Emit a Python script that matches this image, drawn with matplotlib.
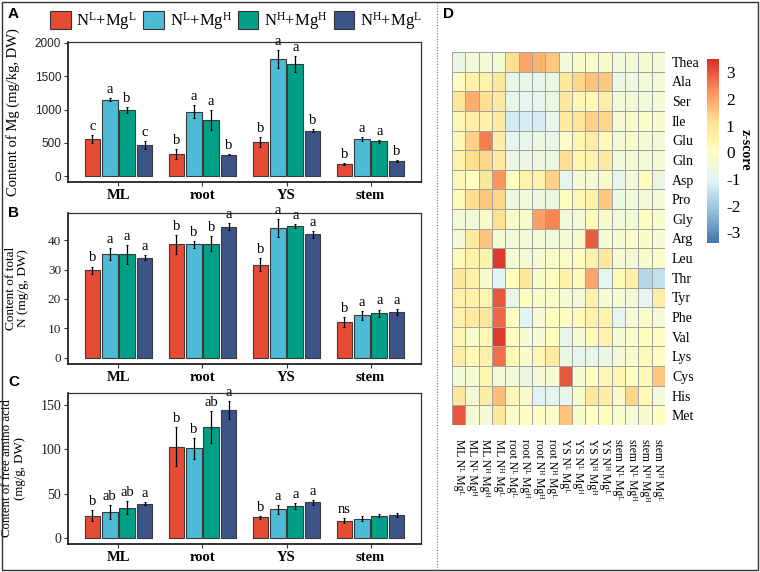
import numpy as np
import matplotlib
matplotlib.use('Agg')
import matplotlib.pyplot as plt
from matplotlib.patches import Patch, Rectangle
from matplotlib.lines import Line2D
from matplotlib.colors import LinearSegmentedColormap

plt.rcParams['font.family'] = ['Liberation Serif', 'DejaVu Serif']
plt.rcParams['mathtext.fontset'] = 'custom'
plt.rcParams['mathtext.rm'] = 'Liberation Serif'
plt.rcParams['mathtext.it'] = 'Liberation Serif:italic'
plt.rcParams['mathtext.bf'] = 'Liberation Serif:bold'
plt.rcParams['axes.unicode_minus'] = False

# ---------------- data ----------------
tissues = ['ML', 'root', 'YS', 'stem']
treatments = ['N$^{\\mathrm{L}}$+Mg$^{\\mathrm{L}}$', 'N$^{\\mathrm{L}}$+Mg$^{\\mathrm{H}}$',
              'N$^{\\mathrm{H}}$+Mg$^{\\mathrm{H}}$', 'N$^{\\mathrm{H}}$+Mg$^{\\mathrm{L}}$']
colors = ['#E64B35', '#4DBBD5', '#00A087', '#3C5488']

# rows: tissue; columns: treatment
mg_mean = [[560, 1150, 990, 470], [330, 970, 840, 320], [510, 1760, 1690, 680], [180, 550, 520, 220]]
mg_err = [[60, 25, 50, 60], [70, 100, 150, 10], [80, 130, 120, 25], [20, 30, 20, 15]]
mg_letters = [['c', 'a', 'b', 'c'], ['b', 'a', 'a', 'b'], ['b', 'a', 'a', 'b'], ['b', 'a', 'a', 'b']]

n_mean = [[29.8, 35.2, 35.2, 34.0], [38.5, 38.5, 38.8, 44.5], [31.7, 44.0, 44.8, 42.0], [12.2, 14.5, 15.2, 15.5]]
n_err = [[1.2, 2.0, 3.2, 0.8], [3.2, 1.2, 2.5, 1.2], [2.3, 3.0, 0.7, 1.2], [1.8, 1.5, 1.2, 1.0]]
n_letters = [['b', 'a', 'a', 'a'], ['b', 'b', 'b', 'a'], ['b', 'a', 'a', 'a'], ['b', 'a', 'a', 'a']]

aa_mean = [[25, 29, 34, 38.5], [103, 101, 125, 144], [23, 32, 36, 40], [19.5, 21.5, 25, 26]]
aa_err = [[6, 8, 7, 2], [22, 12, 18, 10], [1.5, 5, 3, 3], [3, 3, 2, 2.5]]
aa_letters = [['b', 'ab', 'ab', 'a'], ['b', 'b', 'ab', 'a'], ['b', 'a', 'a', 'a'], ['ns', '', '', '']]

amino_acids = ['Thea', 'Ala', 'Ser', 'Ile', 'Glu', 'Gln', 'Asp', 'Pro', 'Gly', 'Arg',
               'Leu', 'Thr', 'Tyr', 'Phe', 'Val', 'Lys', 'Cys', 'His', 'Met']
# superscript L / H written with Unicode modifier letters
heat_cols = ['ML N\u1D38 Mg\u1D38', 'ML N\u1D38 Mg\u1D34', 'ML N\u1D34 Mg\u1D34', 'ML N\u1D34 Mg\u1D38',
             'root N\u1D38 Mg\u1D38', 'root N\u1D38 Mg\u1D34', 'root N\u1D34 Mg\u1D34', 'root N\u1D34 Mg\u1D38',
             'YS N\u1D38 Mg\u1D38', 'YS N\u1D38 Mg\u1D34', 'YS N\u1D34 Mg\u1D34', 'YS N\u1D34 Mg\u1D38',
             'stem N\u1D38 Mg\u1D38', 'stem N\u1D38 Mg\u1D34', 'stem N\u1D34 Mg\u1D34', 'stem N\u1D34 Mg\u1D38']
zscore = np.array([
    [-0.7, -0.5, -0.4, -0.3, 1.2, 2.0, 1.8, 1.5, -0.5, -0.2, -0.1, -0.2, -0.5, -0.5, -0.3, -0.5],  # Thea
    [0.1, 0.6, 0.6, 0.9, -0.8, -0.8, -0.8, -0.7, 0.9, 1.3, 1.6, 1.5, -0.6, -0.6, -0.5, -0.5],      # Ala
    [1.0, 1.9, 1.2, 0.8, -0.8, -0.9, -0.9, -0.7, 0.9, 0.3, 0.2, 0.7, -0.5, -0.4, -0.5, -0.3],      # Ser
    [0.3, 0.7, 0.6, 0.8, -1.3, -1.2, -1.2, -0.8, 0.8, 1.0, 1.4, 1.3, -0.4, -0.2, -0.1, -0.2],      # Ile
    [0.3, 1.4, 2.5, 0.7, -0.9, -0.8, -0.6, -0.8, -0.1, 0.4, 0.7, 0.2, -0.4, -0.2, -0.3, -0.4],     # Glu
    [0.5, 1.2, 1.3, 0.8, -0.7, -0.7, -0.6, -0.6, 1.2, 0.4, 0.5, 0.8, -0.5, -0.4, -0.5, -0.3],      # Gln
    [0.3, 0.0, 0.9, 2.2, 0.0, 0.5, 0.5, 1.4, -0.9, -0.3, -0.4, -0.2, -0.9, -0.4, 0.1, -0.7],       # Asp
    [0.2, 1.2, 1.5, 1.3, -0.6, -0.5, -0.6, -0.6, 0.1, 0.3, 0.6, 1.5, -0.6, -0.5, -0.4, -0.4],      # Pro
    [-0.5, -0.5, -0.2, 1.2, -0.2, -0.2, 2.1, 2.4, -0.5, -0.4, 0.2, -0.2, -0.5, -0.5, 0.1, -0.2],   # Gly
    [-0.4, 0.8, 1.6, -0.3, -0.5, -0.4, -0.4, -0.5, -0.4, -0.2, 2.9, -0.3, -0.3, -0.2, -0.2, -0.3], # Arg
    [0.2, 0.6, 0.5, 3.3, -0.3, -0.4, -0.3, -0.2, -0.1, 0.0, 0.6, 0.9, -0.3, -0.4, -0.2, -0.1],     # Leu
    [0.9, 0.6, -0.2, -1.0, 0.1, 0.9, -0.2, 0.1, 0.6, 0.2, 2.0, -0.9, 0.2, 0.6, -1.7, -1.5],        # Thr
    [0.6, 0.6, 0.4, 3.0, -0.8, 0.1, -0.2, -0.1, -0.3, -0.4, 0.6, -0.3, -0.3, -0.4, -0.9, 0.7],     # Tyr
    [0.6, 0.8, 0.9, 2.8, 0.0, -1.0, -0.3, 0.1, 0.1, 0.2, 0.5, 0.5, -0.9, -0.3, -0.1, -0.4],        # Phe
    [0.4, -0.2, 0.3, 3.3, 0.1, -0.3, -0.3, 0.1, -0.8, -0.3, 0.2, 0.6, -0.3, -0.1, 0.1, 0.1],       # Val
    [0.7, 0.2, 0.6, 2.7, 0.2, -0.2, 0.3, 0.8, -0.7, -0.9, -0.8, -0.7, -0.4, -0.2, 0.2, 0.1],       # Lys
    [-0.5, -0.3, 0.4, -0.4, -0.5, -0.7, -0.4, -0.3, 3.0, -0.3, 0.1, 0.3, 0.4, 0.1, 0.3, 1.5],      # Cys
    [0.9, -0.4, 0.7, 1.7, 0.3, -0.2, -1.1, -0.9, -0.8, -0.2, 0.9, 0.7, -0.2, 1.3, 0.2, -0.5],      # His
    [3.0, -0.3, -0.3, 0.9, -0.1, 0.0, 0.0, -0.1, 1.6, -0.2, 0.0, 0.1, -0.1, -0.3, -0.2, 0.0],      # Met
])

# ---------------- figure ----------------
W, H = 760, 572
fig = plt.figure(figsize=(W / 100, H / 100), dpi=100)


def px_axes(x0, y0, x1, y1):
    return fig.add_axes([x0 / W, 1 - y1 / H, (x1 - x0) / W, (y1 - y0) / H])


# outer border and dotted separator
fig.patches.append(Rectangle((2 / W, 2 / H), (W - 4) / W, (H - 4) / H, transform=fig.transFigure,
                             fill=False, edgecolor='#333333', linewidth=1.0))
fig.lines.append(Line2D([437 / W, 437 / W], [2 / H, 1 - 2 / H], transform=fig.transFigure,
                        color='#777777', linewidth=0.8, linestyle=(0, (1, 1.5))))


def bar_panel(ax, means, errs, letters, ylim, yticks, tickfont, ticksize, ylabel, ylabsize, labx):
    x = np.arange(1, len(tissues) + 1)
    slot, bw = 0.207, 0.185
    for j in range(len(treatments)):
        m = np.array([means[i][j] for i in range(len(tissues))])
        e = np.array([errs[i][j] for i in range(len(tissues))])
        xs = x + (j - 1.5) * slot
        ax.bar(xs, m, width=bw, color=colors[j], edgecolor='#3a3a3a', linewidth=0.8, zorder=2)
        ax.errorbar(xs, m, yerr=e, fmt='none', ecolor='black', elinewidth=0.9, capsize=1.0,
                    capthick=0.8, zorder=3)
        for i in range(len(tissues)):
            lab = letters[i][j]
            if lab:
                ax.annotate(lab, (xs[i], m[i] + e[i]), xytext=(0, 1.5), textcoords='offset points',
                            ha='center', va='bottom', fontsize=10.5, annotation_clip=False)
    ax.set_xlim(0.4, 4.6)
    ax.set_ylim(*ylim)
    ax.set_yticks(yticks)
    ax.set_yticklabels([str(t) for t in yticks], family=tickfont, fontsize=ticksize, color='#222222')
    ax.set_xticks(x)
    ax.set_xticklabels(tissues, fontweight='bold', fontsize=10.5)
    ax.tick_params(axis='both', length=3, width=0.8, color='#333333', pad=2)
    for s in ['top', 'right']:
        ax.spines[s].set_color('#333333')
        ax.spines[s].set_linewidth(0.9)
    for s in ['left', 'bottom']:
        ax.spines[s].set_color('#111111')
        ax.spines[s].set_linewidth(1.2)
    ax.set_ylabel(ylabel, fontsize=ylabsize, linespacing=1.05)
    ax.yaxis.set_label_coords(labx, 0.5)


axA = px_axes(68, 42, 421, 182)
bar_panel(axA, mg_mean, mg_err, mg_letters, (-90, 2015), [0, 500, 1000, 1500, 2000],
          'Liberation Sans', 8.5, 'Content of Mg (mg/kg, DW)', 10.5, -0.135)
axB = px_axes(68, 213, 421, 364)
bar_panel(axB, n_mean, n_err, n_letters, (-2.1, 49.2), [0, 10, 20, 30, 40],
          'Liberation Serif', 9.5, 'Content of total\nN (mg/g, DW)', 9.5, -0.11)
axC = px_axes(68, 393, 421, 544)
bar_panel(axC, aa_mean, aa_err, aa_letters, (-7, 163.5), [0, 50, 100, 150],
          'Liberation Serif', 10, 'Content of free amino acid\n(mg/g, DW)', 9.3, -0.12)

# legend
handles = [Patch(facecolor=c, edgecolor='#333333', linewidth=0.8) for c in colors]
fig.legend(handles, treatments, ncol=4, loc='center', bbox_to_anchor=(236 / W, 1 - 21 / H),
           frameon=False, fontsize=12, handlelength=1.25, handleheight=1.25,
           handletextpad=0.35, columnspacing=0.35, borderpad=0)

# panel letters
for lab, (x, y) in zip(['A', 'B', 'C', 'D'], [(8, 14), (8, 213), (8, 382), (443, 14)]):
    fig.text(x / W, 1 - y / H, lab, fontsize=11, fontweight='bold', family='Liberation Sans',
             ha='left', va='center')

# heatmap
cmap = LinearSegmentedColormap.from_list(
    'rdylbu7', ['#4575B4', '#91BFDB', '#E0F3F8', '#FFFFBF', '#FEE090', '#FC8D59', '#D73027'], N=100)
axD = px_axes(452, 52, 665, 425)
mesh = axD.pcolormesh(np.arange(len(heat_cols) + 1), np.arange(len(amino_acids) + 1), zscore,
                      cmap=cmap, vmin=-3.4, vmax=3.5, edgecolors='#a3a3a3', linewidth=0.7)
axD.set_xlim(0, len(heat_cols))
axD.set_ylim(len(amino_acids), 0)
axD.yaxis.tick_right()
axD.set_yticks(np.arange(len(amino_acids)) + 0.5)
axD.set_yticklabels(amino_acids, fontsize=10)
axD.set_xticks(np.arange(len(heat_cols)) + 0.5)
axD.set_xticklabels(heat_cols, rotation=270, fontsize=8.4, va='top', ha='center')
axD.tick_params(length=0, pad=5)
axD.tick_params(axis='x', pad=10)
for s in axD.spines.values():
    s.set_visible(False)

cax = px_axes(707, 59, 719, 243)
cb = fig.colorbar(mesh, cax=cax)
cb.outline.set_visible(False)
cb.set_ticks([-3, -2, -1, 0, 1, 2, 3])
cax.tick_params(length=0, labelsize=12.5, pad=5)
fig.text(745 / W, 1 - 150 / H, 'z-score', rotation=270, fontsize=10, fontweight='bold',
         ha='center', va='center')

fig.savefig('out.png', dpi=100)
